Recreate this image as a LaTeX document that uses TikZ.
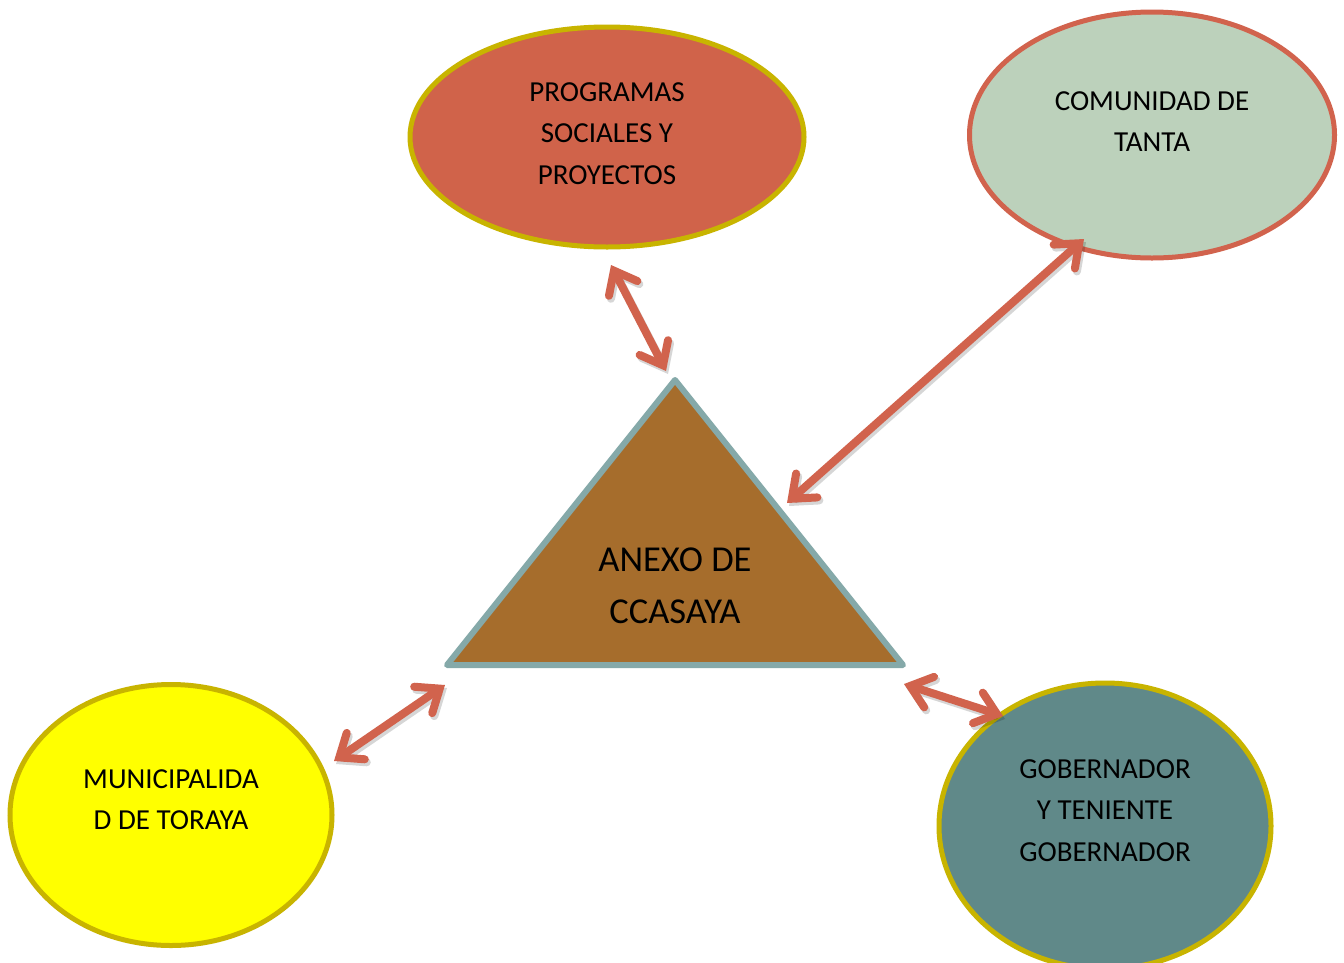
\documentclass[tikz,border=0pt]{standalone}
\usepackage{fontspec}
\setmainfont{Carlito}
\usetikzlibrary{arrows.meta,shapes.geometric}
\definecolor{arrowc}{HTML}{D1634D}
\definecolor{goldb}{HTML}{C8B400}
\definecolor{progfill}{HTML}{D0634A}
\definecolor{comfill}{HTML}{BCD1BB}
\definecolor{munfill}{HTML}{FFFF00}
\definecolor{gobfill}{HTML}{608989}
\definecolor{trifill}{HTML}{A66D2C}
\definecolor{tribord}{HTML}{85A9A9}
\begin{document}
\begin{tikzpicture}[x=1pt,y=-1pt,
  bubble/.style={ellipse, draw, line width=5pt, inner sep=0pt},
  lbl/.style={anchor=north, inner sep=0pt, align=center, text=black,
              font=\fontsize{29}{41.5}\selectfont},
  link/.style={arrowc, line width=8pt, line cap=round,
     {Straight Barb[length=20pt,width=32pt,line cap=round,line join=miter]}-{Straight Barb[length=20pt,width=32pt,line cap=round,line join=miter]}},
  linkshadow/.style={link, draw=black, opacity=0.16,
     transform canvas={shift={(2pt,-3pt)}}},
]
\useasboundingbox[fill=white] (0,0) rectangle (1344,962);

% ellipses
\node[bubble, draw=goldb, fill=progfill, minimum width=394pt, minimum height=220pt] (prog) at (607,137) {};
\node[bubble, draw=arrowc, fill=comfill, minimum width=365pt, minimum height=246pt] (com) at (1152,135) {};
\node[bubble, draw=goldb, fill=munfill, minimum width=322pt, minimum height=261pt] (mun) at (171,815) {};
\node[bubble, draw=goldb, fill=gobfill, minimum width=332pt, minimum height=286pt] (gob) at (1105,826) {};

% triangle
\coordinate (ttop) at (675,380);
\coordinate (tleft) at (447,665);
\coordinate (tright) at (903,665);
\draw[fill=trifill, draw=tribord, line width=6pt, line join=round] (tleft) -- (ttop) -- (tright) -- cycle;

% labels
\node[lbl] (tprog) at (607,82) {PROGRAMAS\\SOCIALES Y\\PROYECTOS};
\node[lbl] (tcom) at (1152,91) {COMUNIDAD DE\\TANTA};
\node[lbl] (tmun) at (171,769) {MUNICIPALIDA\\D DE TORAYA};
\node[lbl] (tgob) at (1105,759) {GOBERNADOR\\Y TENIENTE\\GOBERNADOR};
\node[lbl, font=\fontsize{36.5}{52}\selectfont] (tanexo) at (675,548) {ANEXO DE\\CCASAYA};

% connector end points
\coordinate (pa) at (611,265);
\coordinate (pb) at (666,371);
\coordinate (ca) at (1084,239);
\coordinate (cb) at (787,503);
\coordinate (ma) at (334,761);
\coordinate (mb) at (445,685);
\coordinate (ga) at (1003,716);
\coordinate (gb) at (904,684);

% shadows
\draw[linkshadow] (pa) -- (pb);
\draw[linkshadow] (ca) -- (cb);
\draw[linkshadow] (ma) -- (mb);
\draw[linkshadow] (ga) -- (gb);
% connectors
\draw[link] (pa) -- (pb);
\draw[link] (ca) -- (cb);
\draw[link] (ma) -- (mb);
\draw[link] (ga) -- (gb);
\end{tikzpicture}
\end{document}
